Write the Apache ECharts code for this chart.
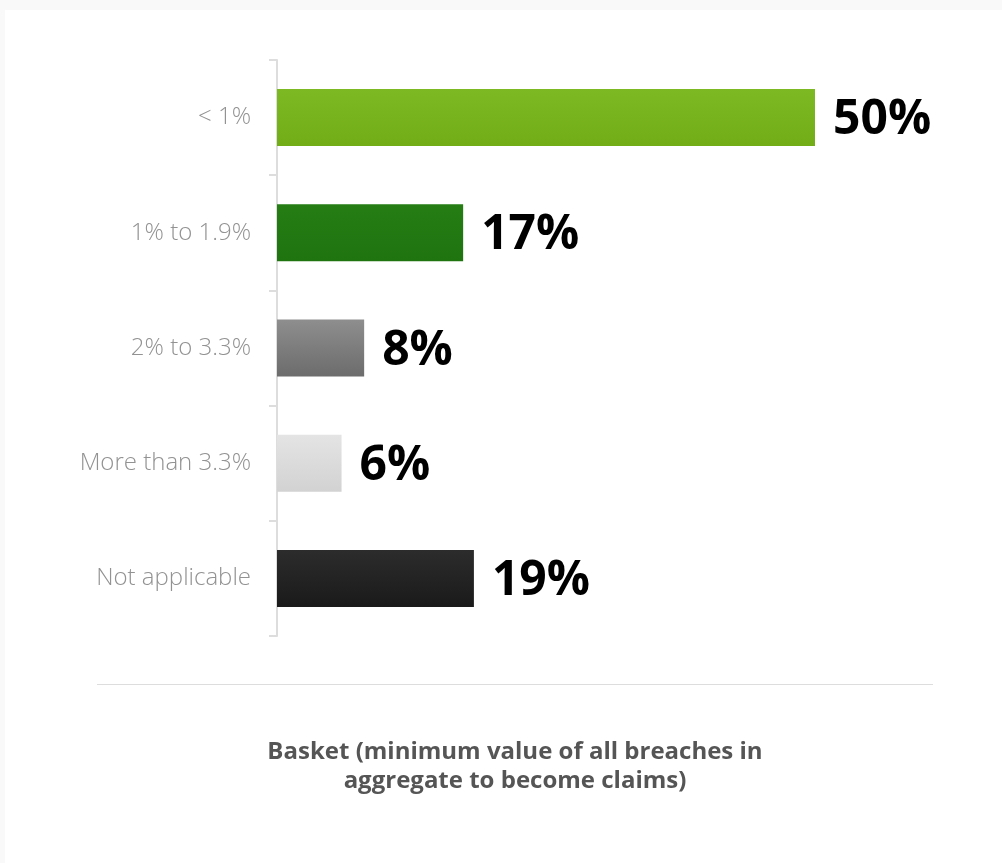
<!DOCTYPE html>
<html>
<head>
<meta charset="utf-8">
<script src="https://cdn.jsdelivr.net/npm/echarts@6/dist/echarts.min.js"></script>
<style>
html,body{margin:0;padding:0;background:#f9f9f9;}
#chart{width:1002px;height:863px;}
</style>
</head>
<body>
<div id="chart"></div>
<script>
// ---- data ----
const categories = ['< 1%', '1% to 1.9%', '2% to 3.3%', 'More than 3.3%', 'Not applicable'];
const values = [50, 17.3, 8.1, 6, 18.3];
const valueLabels = ['50%', '17%', '8%', '6%', '19%'];
const titleLines = ['Basket (minimum value of all breaches in', 'aggregate to become claims)'];

const barColors = [
  ['#7cb922', '#72ad18'],
  ['#257d14', '#1f7410'],
  ['#8e8e8e', '#6c6c6c'],
  ['#e4e4e4', '#d2d2d2'],
  ['#2c2c2c', '#1a1a1a']
];

const chart = echarts.init(document.getElementById('chart'));
const font = '"Open Sans", "Noto Sans", sans-serif';

chart.setOption({
  backgroundColor: '#f9f9f9',
  animation: false,
  title: {
    text: titleLines.join('\n'),
    left: 510,
    top: 733,
    textAlign: 'center',
    textStyle: {
      fontFamily: font,
      fontSize: 24,
      fontWeight: 'bold',
      color: '#555555',
      lineHeight: 29
    }
  },
  graphic: [
    {
      type: 'rect',
      z: -100,
      silent: true,
      shape: {x: 5, y: 10, width: 997, height: 853},
      style: {fill: '#ffffff'}
    },
    {
      type: 'line',
      silent: true,
      shape: {x1: 97, y1: 684.5, x2: 933, y2: 684.5},
      style: {stroke: '#dddddd', lineWidth: 1}
    }
  ],
  grid: {left: 277, top: 60, width: 538, height: 576, containLabel: false},
  xAxis: {
    type: 'value',
    min: 0,
    max: 50,
    show: false
  },
  yAxis: {
    type: 'category',
    data: categories,
    inverse: true,
    axisLine: {show: true, lineStyle: {color: '#dddddd', width: 2}},
    axisTick: {show: true, length: 8, lineStyle: {color: '#dddddd', width: 2}},
    axisLabel: {
      margin: 26,
      fontFamily: font,
      fontSize: 24,
      fontWeight: 300,
      color: '#929292',
      padding: [4, 0, 0, 0]
    },
    splitLine: {show: false}
  },
  series: [{
    type: 'bar',
    barWidth: 57,
    data: values.map((v, i) => ({
      value: v,
      itemStyle: {
        color: new echarts.graphic.LinearGradient(0, 0, 0, 1, [
          {offset: 0, color: barColors[i][0]},
          {offset: 1, color: barColors[i][1]}
        ])
      }
    })),
    label: {
      show: true,
      position: 'right',
      distance: 18,
      offset: [0, 3],
      formatter: p => valueLabels[p.dataIndex],
      fontFamily: font,
      fontSize: 48,
      fontWeight: 'bold',
      color: '#000000'
    }
  }]
});
</script>
</body>
</html>
